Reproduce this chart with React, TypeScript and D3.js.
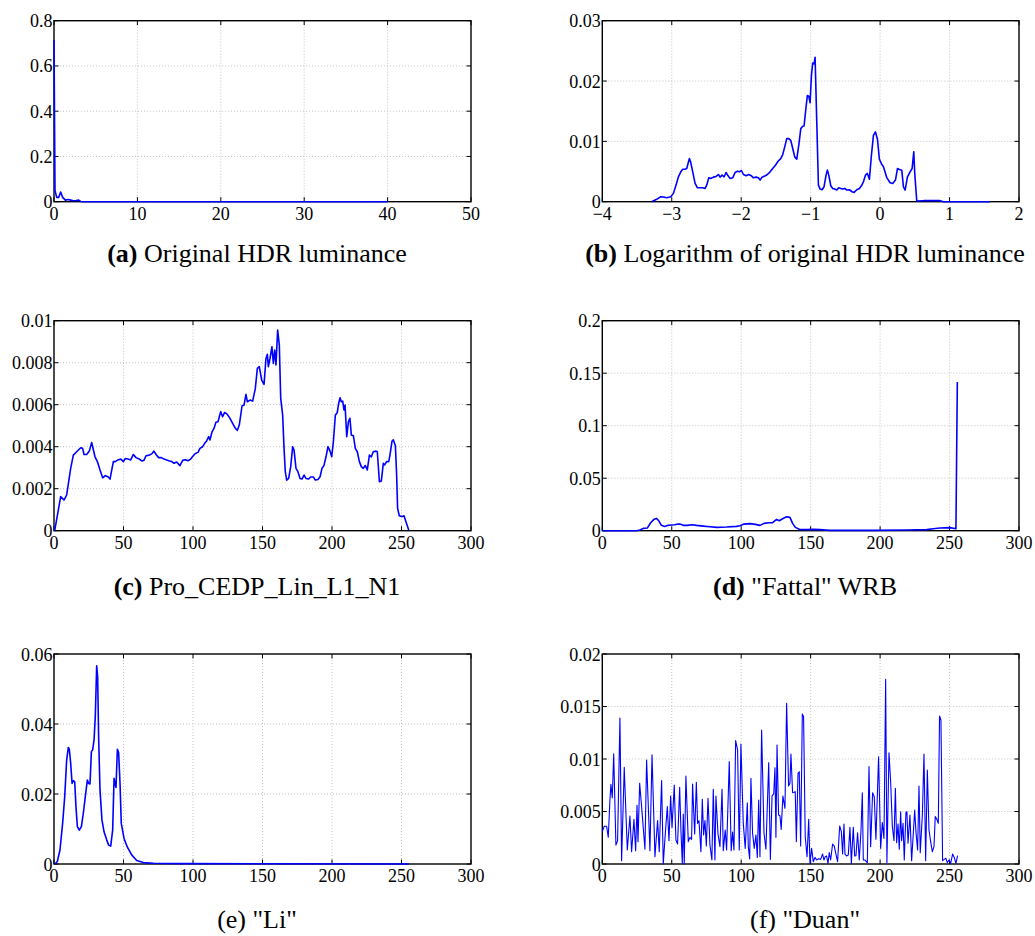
import React from "react";
import * as d3 from "d3";

// ---------- DATA ----------
// (a) Original HDR luminance
const aX = [0, 0.12, 0.32, 0.56, 0.8, 1.04, 1.36, 1.68, 2.0, 2.32, 2.64, 2.96, 3.2, 3.5, 40];
const aY = [0.715, 0.05, 0.019, 0.019, 0.043, 0.019, 0.007, 0.01, 0.007, 0.004, 0.005, 0.007, 0.001, 0, 0];

// (b) Logarithm of original HDR luminance
const bX = [-3.29, -3.216, -3.158, -3.12, -3.072, -3.014, -2.976, -2.938, -2.904, -2.87, -2.842, -2.808, -2.784, -2.765, -2.746, -2.726, -2.698, -2.664, -2.63, -2.592, -2.554, -2.52, -2.496, -2.467, -2.438, -2.4, -2.362, -2.328, -2.304, -2.275, -2.246, -2.218, -2.189, -2.16, -2.122, -2.088, -2.054, -2.026, -1.997, -1.968, -1.93, -1.891, -1.853, -1.824, -1.786, -1.752, -1.728, -1.7, -1.661, -1.623, -1.584, -1.546, -1.507, -1.469, -1.431, -1.402, -1.373, -1.344, -1.315, -1.287, -1.258, -1.229, -1.2, -1.171, -1.142, -1.114, -1.095, -1.066, -1.047, -1.027, -1.008, -0.989, -0.97, -0.951, -0.936, -0.912, -0.888, -0.864, -0.835, -0.807, -0.778, -0.759, -0.739, -0.71, -0.682, -0.653, -0.624, -0.595, -0.567, -0.538, -0.509, -0.48, -0.442, -0.404, -0.375, -0.336, -0.298, -0.269, -0.24, -0.211, -0.183, -0.154, -0.125, -0.096, -0.067, -0.038, -0.01, 0.019, 0.048, 0.096, 0.144, 0.182, 0.221, 0.25, 0.278, 0.312, 0.336, 0.36, 0.394, 0.432, 0.461, 0.485, 0.499, 0.528, 0.624, 0.864, 0.912, 1.584];
const bY = [0, 0.00039, 0.00083, 0.00077, 0.00066, 0.00083, 0.00138, 0.00275, 0.00413, 0.00495, 0.00539, 0.00539, 0.0055, 0.00633, 0.00715, 0.00649, 0.00495, 0.00303, 0.00231, 0.00231, 0.00231, 0.0022, 0.00275, 0.00396, 0.00385, 0.00407, 0.00418, 0.00451, 0.00407, 0.0044, 0.00413, 0.00484, 0.00429, 0.00385, 0.00396, 0.00484, 0.00506, 0.00495, 0.00517, 0.00451, 0.00429, 0.00451, 0.00429, 0.00396, 0.00407, 0.00396, 0.00358, 0.00407, 0.00424, 0.00451, 0.00495, 0.0055, 0.00605, 0.00671, 0.00715, 0.00782, 0.00908, 0.01046, 0.01046, 0.01018, 0.00881, 0.00743, 0.00704, 0.00936, 0.01211, 0.01249, 0.01255, 0.01569, 0.01761, 0.0175, 0.0164, 0.02091, 0.023, 0.02284, 0.02394, 0.0132, 0.00275, 0.00209, 0.00198, 0.00248, 0.0044, 0.00523, 0.0044, 0.00264, 0.0022, 0.00209, 0.00193, 0.00231, 0.0022, 0.00209, 0.0022, 0.00193, 0.00198, 0.00165, 0.00154, 0.00198, 0.0022, 0.00264, 0.0033, 0.0044, 0.00468, 0.00374, 0.0077, 0.011, 0.01156, 0.01035, 0.00704, 0.0063, 0.0058, 0.004, 0.00314, 0.00303, 0.00358, 0.0055, 0.00534, 0.00523, 0.00248, 0.00193, 0.00413, 0.00495, 0.0055, 0.00826, 0.00468, 0.00011, 0.00017, 0.00017, 0, 0];

// (c) Pro_CEDP_Lin_L1_N1
const cX = [0.5, 4.8, 7.2, 9.1, 12, 13.9, 16.3, 19.2, 20.6, 21.6, 23.5, 25.4, 27.1, 29.5, 31.2, 33.1, 35, 36.9, 38.8, 40.3, 42.7, 44.1, 46, 48, 49.9, 51.3, 53.2, 55.2, 57.1, 59, 61.4, 63.3, 64.7, 66.2, 68.6, 70.5, 71.9, 73.4, 75.3, 77.2, 79.1, 81.1, 83, 84.9, 86.3, 88.2, 90.6, 92.6, 94.5, 96.4, 98.3, 100.2, 101.7, 103.6, 105, 106.9, 108.4, 109.8, 111.3, 112.2, 113.7, 115.1, 116.5, 118, 119.9, 121.3, 122.8, 124.7, 126.6, 128.5, 130.5, 131.9, 133.3, 135.3, 136.7, 138.1, 139.1, 141, 142.9, 144.8, 146.3, 147.7, 149.4, 151.1, 152.5, 153.5, 154.2, 155.4, 156.8, 157.8, 158.8, 159.7, 160.9, 162.1, 163.1, 164.5, 165.5, 166.4, 167.4, 168.8, 170.3, 171.7, 172.7, 174.1, 175.5, 177, 178.4, 179.9, 181.3, 183.2, 184.6, 186.6, 188, 189.9, 191.4, 192.8, 194.2, 195.7, 197.1, 198.6, 199.8, 201, 202.4, 203.8, 204.8, 205.8, 206.7, 207.7, 208.6, 209.4, 210.6, 211.8, 212.9, 213.9, 215.4, 216.8, 218.2, 219.7, 221.1, 222.5, 224, 225.4, 226.9, 228.3, 229.7, 231.7, 232.6, 234.1, 235.5, 236.9, 237.9, 239.3, 240.8, 241.7, 243.2, 244.1, 245.6, 246.5, 247.2, 248.4, 250.4, 251.8, 253.2, 255.2];
const cY = [0, 0.00162, 0.00146, 0.0017, 0.00297, 0.0036, 0.00376, 0.00395, 0.00392, 0.00363, 0.00363, 0.00379, 0.0042, 0.00352, 0.00329, 0.00289, 0.00252, 0.00262, 0.00257, 0.00246, 0.00329, 0.00329, 0.00337, 0.00341, 0.00329, 0.00344, 0.00341, 0.00337, 0.00363, 0.00348, 0.00341, 0.00332, 0.00335, 0.00357, 0.0036, 0.00367, 0.00379, 0.00363, 0.00348, 0.00348, 0.00341, 0.00337, 0.00332, 0.00329, 0.00321, 0.00327, 0.0031, 0.00335, 0.00338, 0.00333, 0.00341, 0.00357, 0.00368, 0.00373, 0.00392, 0.004, 0.00416, 0.00427, 0.00448, 0.00432, 0.00471, 0.00487, 0.00516, 0.00519, 0.00567, 0.00543, 0.00563, 0.00554, 0.00535, 0.00511, 0.00487, 0.00478, 0.00503, 0.00595, 0.00598, 0.00649, 0.00614, 0.00622, 0.00617, 0.00675, 0.00773, 0.00781, 0.00717, 0.00697, 0.0082, 0.0084, 0.00781, 0.0082, 0.00876, 0.00797, 0.0086, 0.00789, 0.00956, 0.00884, 0.0063, 0.0055, 0.00392, 0.00281, 0.00241, 0.00249, 0.00305, 0.004, 0.00384, 0.00297, 0.00281, 0.00249, 0.00246, 0.00265, 0.00249, 0.00246, 0.00256, 0.00256, 0.00241, 0.00244, 0.00257, 0.00297, 0.0031, 0.00352, 0.004, 0.00379, 0.00352, 0.00424, 0.0055, 0.00563, 0.00606, 0.00633, 0.00614, 0.00617, 0.00575, 0.00598, 0.00448, 0.00519, 0.00535, 0.00456, 0.00452, 0.00392, 0.00376, 0.00329, 0.00305, 0.00297, 0.0031, 0.00289, 0.0036, 0.00352, 0.00376, 0.00379, 0.00376, 0.00233, 0.00237, 0.00321, 0.00313, 0.00329, 0.00329, 0.0036, 0.00427, 0.00433, 0.00405, 0.00265, 0.00106, 0.00071, 0.00067, 0.00071, 0.00043, 0.00003];

// (d) "Fattal" WRB
const dX = [0, 24.7, 27.1, 29.5, 32.4, 34.8, 37.2, 39.1, 40.6, 42.5, 44.9, 47.3, 49.7, 52.1, 54.5, 55.9, 58.3, 61.2, 64.6, 67.9, 72.7, 77.5, 82.3, 89.5, 96.7, 99.1, 102, 106.3, 110.2, 113.5, 116.4, 119.8, 122.6, 125.5, 127.4, 129.8, 132.7, 135.1, 137, 139, 141.8, 147.1, 151.9, 156.7, 163.9, 195.1, 219.1, 233.5, 238.3, 243.1, 250.3, 254.6, 255.6];
const dY = [0, 0, 0.0006, 0.0022, 0.0025, 0.0076, 0.0108, 0.0117, 0.0095, 0.0051, 0.0041, 0.0051, 0.0054, 0.0057, 0.0063, 0.0063, 0.0051, 0.0051, 0.0057, 0.0051, 0.0044, 0.0038, 0.0032, 0.0035, 0.0041, 0.0048, 0.0063, 0.0067, 0.006, 0.0051, 0.007, 0.0076, 0.0076, 0.0108, 0.0095, 0.0114, 0.0133, 0.0127, 0.007, 0.0032, 0.0013, 0.001, 0.0013, 0.001, 0.0003, 0.0003, 0.0006, 0.001, 0.0019, 0.0025, 0.0029, 0.0019, 0.1416];

// (e) "Li"
const eX = [0.7, 2.4, 4.3, 6.2, 7.7, 9.1, 10.3, 11, 12, 13, 14, 14.9, 15.8, 16.8, 18.2, 19.7, 21.1, 22.5, 24, 24.9, 25.9, 26.9, 27.8, 28.8, 29.7, 30.7, 31.4, 32.1, 33.1, 34.5, 36, 37.9, 39.3, 40.8, 42.2, 43.2, 43.9, 44.6, 45.6, 46.5, 47.5, 48.4, 50.4, 52.8, 55.9, 59.5, 64.3, 71.5, 93, 255.4];
const eY = [0, 0.0007, 0.004, 0.0116, 0.0192, 0.0297, 0.0333, 0.0328, 0.0288, 0.023, 0.0238, 0.0235, 0.0164, 0.0107, 0.0097, 0.0107, 0.0145, 0.0192, 0.024, 0.023, 0.0229, 0.0321, 0.0326, 0.0354, 0.0421, 0.0566, 0.0535, 0.0364, 0.0211, 0.0126, 0.0092, 0.0069, 0.0054, 0.0051, 0.0097, 0.0245, 0.023, 0.0219, 0.0328, 0.0318, 0.023, 0.0116, 0.0073, 0.0048, 0.0026, 0.001, 0.0004, 0.0002, 0.0001, 0];

// (f) "Duan"
const fX = [0, 1.4, 3.1, 4.3, 5.5, 6.2, 7.2, 8.2, 9.8, 11, 12.7, 13.9, 15.8, 18, 19.9, 21.1, 22.8, 24, 25, 25.7, 26.9, 28.3, 30.7, 31.9, 34.3, 35.8, 37.9, 39.8, 41, 42.7, 43.9, 45.1, 46.8, 48, 49.2, 50.2, 51.8, 53, 54.2, 55.7, 56.6, 57.6, 58.3, 59, 60.2, 61.9, 63.1, 64.3, 65, 66.5, 67.7, 68.6, 69.6, 71, 72, 72.9, 73.9, 74.9, 76.1, 77.5, 78.9, 79.9, 81.1, 81.8, 83.3, 84.7, 86.2, 87.1, 88.5, 89.5, 91.4, 92.8, 93.8, 94.8, 96, 97.4, 98.6, 99.8, 101.5, 102.9, 104.4, 105.1, 106.1, 107, 108.2, 109.4, 110.6, 111.6, 112.6, 113.5, 114.7, 116.4, 117.8, 119.8, 121, 122.2, 123.4, 124.3, 125, 125.8, 126.9, 127.9, 128.8, 130, 131.5, 132.7, 134.1, 135.1, 135.8, 137, 138, 138.9, 139.7, 140.9, 141.8, 142.8, 144, 144.9, 146.1, 147.4, 148.6, 149.5, 150.7, 151.9, 153.1, 154.3, 155.7, 157.2, 158.6, 159.6, 160.5, 161.5, 162.5, 163.4, 164.4, 165.8, 167, 168.2, 169.4, 170.9, 172.1, 173, 174, 174.7, 175.9, 177.1, 178.3, 179.3, 180.7, 181.7, 182.6, 183.8, 185, 186.2, 187.2, 187.9, 189.1, 190.8, 192, 193.2, 194.6, 195.8, 197, 198.9, 200.4, 201.6, 202.8, 204, 204.9, 206.4, 207.6, 208.8, 210, 211, 211.9, 212.9, 213.8, 214.8, 215.5, 216.5, 217.4, 218.6, 219.3, 220.1, 221.5, 222.7, 223.9, 224.9, 225.8, 227, 228, 228.9, 230.4, 231.6, 232.8, 234, 235.2, 236.4, 237.6, 238.8, 239.7, 240.9, 241.9, 242.8, 243.8, 245, 246.2, 247.4, 248.4, 249.6, 250.8, 252.2, 253.4, 254.6, 255.8];
const fY = [0.00308, 0.0036, 0.0036, 0.00254, 0.0061, 0.0076, 0.0063, 0.0105, 0.0018, 0.0022, 0.0139, 0.00032, 0.0092, 0.00133, 0.00457, 0.00117, 0.00425, 0.00127, 0.0056, 0.00213, 0.00768, 0.00546, 0.0014, 0.0099, 0.00127, 0.0104, 0.0007, 0.00413, 0.00117, 0.00794, 0, 0.00244, 0.00546, 0.00222, 0.00648, 0.00349, 0.00752, 0.00229, 0.0019, 0.0073, 0.00324, 0.00006, 0.00476, 0, 0.00838, 0.00213, 0.00254, 0.00235, 0.00762, 0.00286, 0.00778, 0.00387, 0.00413, 0.00117, 0.00616, 0.00276, 0.00413, 0.00171, 0.00625, 0.00181, 0.00038, 0.00711, 0.00038, 0.00648, 0.00286, 0.00165, 0.00711, 0.00127, 0.00324, 0.00133, 0.00975, 0.00127, 0.00305, 0.00133, 0.01175, 0.01086, 0.00133, 0.01143, 0.00387, 0.00149, 0.00584, 0.00165, 0.00048, 0.00816, 0.00292, 0.00149, 0.00276, 0.00063, 0.0061, 0.0007, 0.01276, 0.00298, 0.0014, 0.00965, 0.00044, 0.00648, 0.00667, 0.00917, 0.00254, 0.01133, 0.00467, 0.0046, 0.0033, 0.00648, 0.0053, 0.0153, 0.00743, 0.00768, 0.01048, 0.0068, 0.00683, 0.00689, 0.00213, 0.00863, 0.00879, 0.00171, 0.01429, 0.01403, 0.0026, 0.0007, 0.00425, 0.00006, 0.00149, 0.00022, 0.00063, 0.00038, 0.00051, 0.00044, 0.00095, 0.00038, 0.0007, 0.00076, 0.00006, 0.00108, 0.00038, 0.0019, 0.00171, 0.00095, 0.00022, 0.00362, 0.00308, 0.00095, 0.00381, 0.00095, 0.00076, 0.00086, 0.00349, 0.00006, 0.00349, 0.00076, 0.00079, 0.00298, 0.00038, 0.00308, 0.00679, 0.00038, 0.00038, 0.00013, 0.00927, 0.00165, 0.00679, 0.00641, 0.00235, 0.01022, 0.00149, 0.00394, 0.00244, 0.01759, 0.00013, 0.0106, 0.00784, 0.00362, 0.00222, 0.00721, 0.00203, 0.00381, 0.0014, 0.00498, 0.00222, 0.00387, 0.00038, 0.00489, 0.00498, 0.00197, 0.00467, 0.00032, 0.00292, 0.00514, 0.00308, 0.00133, 0.00743, 0.00108, 0.00457, 0.01048, 0.00032, 0.00895, 0.00324, 0.00213, 0.00117, 0.00165, 0.00451, 0.00425, 0.00387, 0.0141, 0.01371, 0.00032, 0.00044, 0.00054, 0.00013, 0.00038, 0.00006, 0.00095, 0.00063, 0.00006, 0.00079];

// ticks
const xTicks50 = [0, 10, 20, 30, 40, 50];
const xTicksLog = [-4, -3, -2, -1, 0, 1, 2];
const xTicksLogLabels = ["\u22124", "\u22123", "\u22122", "\u22121", "0", "1", "2"];
const xTicks300 = [0, 50, 100, 150, 200, 250, 300];
const aYTicks = [0, 0.2, 0.4, 0.6, 0.8];
const aYLabels = ["0", "0.2", "0.4", "0.6", "0.8"];
const bYTicks = [0, 0.01, 0.02, 0.03];
const bYLabels = ["0", "0.01", "0.02", "0.03"];
const cYTicks = [0, 0.002, 0.004, 0.006, 0.008, 0.01];
const cYLabels = ["0", "0.002", "0.004", "0.006", "0.008", "0.01"];
const dYTicks = [0, 0.05, 0.1, 0.15, 0.2];
const dYLabels = ["0", "0.05", "0.1", "0.15", "0.2"];
const eYTicks = [0, 0.02, 0.04, 0.06];
const eYLabels = ["0", "0.02", "0.04", "0.06"];
const fYTicks = [0, 0.005, 0.01, 0.015, 0.02];
const fYLabels = ["0", "0.005", "0.01", "0.015", "0.02"];

const captionTags = ["(a)", "(b)", "(c)", "(d)", "(e)", "(f)"];
const captionTexts = [
  "Original HDR luminance",
  "Logarithm of original HDR luminance",
  "Pro_CEDP_Lin_L1_N1",
  "\"Fattal\" WRB",
  "\"Li\"",
  "\"Duan\"",
];

// ---------- LAYOUT ----------
const W = 1035, H = 936;
const COLS = [{ left: 54, right: 471, cap: 257 }, { left: 602.3, right: 1019, cap: 805 }];
const ROWS = [
  { top: 20.7, bottom: 201.7, cap: 262 },
  { top: 320.7, bottom: 530.7, cap: 595 },
  { top: 654, bottom: 864, cap: 928 },
];
const TICK_FONT = "'Liberation Serif', 'Times New Roman', serif";

type Spec = {
  xs: number[]; ys: number[];
  xDomain: [number, number]; yDomain: [number, number];
  xTicks: number[]; xLabels: string[];
  yTicks: number[]; yLabels: string[];
  col: number; row: number; idx: number; bold: boolean; lw: number;
};

const specs: Spec[] = [
  { xs: aX, ys: aY, xDomain: [0, 50], yDomain: [0, 0.8], xTicks: xTicks50, xLabels: xTicks50.map(String), yTicks: aYTicks, yLabels: aYLabels, col: 0, row: 0, idx: 0, bold: true, lw: 1.6 },
  { xs: bX, ys: bY, xDomain: [-4, 2], yDomain: [0, 0.03], xTicks: xTicksLog, xLabels: xTicksLogLabels, yTicks: bYTicks, yLabels: bYLabels, col: 1, row: 0, idx: 1, bold: true, lw: 1.6 },
  { xs: cX, ys: cY, xDomain: [0, 300], yDomain: [0, 0.01], xTicks: xTicks300, xLabels: xTicks300.map(String), yTicks: cYTicks, yLabels: cYLabels, col: 0, row: 1, idx: 2, bold: true, lw: 1.6 },
  { xs: dX, ys: dY, xDomain: [0, 300], yDomain: [0, 0.2], xTicks: xTicks300, xLabels: xTicks300.map(String), yTicks: dYTicks, yLabels: dYLabels, col: 1, row: 1, idx: 3, bold: true, lw: 1.6 },
  { xs: eX, ys: eY, xDomain: [0, 300], yDomain: [0, 0.06], xTicks: xTicks300, xLabels: xTicks300.map(String), yTicks: eYTicks, yLabels: eYLabels, col: 0, row: 2, idx: 4, bold: false, lw: 1.6 },
  { xs: fX, ys: fY, xDomain: [0, 300], yDomain: [0, 0.02], xTicks: xTicks300, xLabels: xTicks300.map(String), yTicks: fYTicks, yLabels: fYLabels, col: 1, row: 2, idx: 5, bold: false, lw: 1.1 },
];

function Panel({ s }: { s: Spec }) {
  const c = COLS[s.col], r = ROWS[s.row];
  const x = d3.scaleLinear().domain(s.xDomain).range([c.left, c.right]);
  const y = d3.scaleLinear().domain(s.yDomain).range([r.bottom, r.top]);
  const pts: [number, number][] = s.xs.map((v, i) => [v, s.ys[i]]);
  const line = d3.line<[number, number]>().x((d) => x(d[0])).y((d) => y(d[1]));
  const tl = 4.5;
  return (
    <g>
      {s.xTicks.slice(1, -1).map((t) => (
        <line key={"gx" + t} x1={x(t)} x2={x(t)} y1={r.top} y2={r.bottom} stroke="#bdbdbd" strokeWidth={0.9} strokeDasharray="1,2" />
      ))}
      {s.yTicks.slice(1, -1).map((t) => (
        <line key={"gy" + t} x1={c.left} x2={c.right} y1={y(t)} y2={y(t)} stroke="#bdbdbd" strokeWidth={0.9} strokeDasharray="1,2" />
      ))}
      <rect x={c.left} y={r.top} width={c.right - c.left} height={r.bottom - r.top} fill="none" stroke="#000" strokeWidth={1.4} />
      {s.xTicks.map((t) => (
        <g key={"tx" + t}>
          <line x1={x(t)} x2={x(t)} y1={r.bottom} y2={r.bottom - tl} stroke="#000" strokeWidth={1} />
          <line x1={x(t)} x2={x(t)} y1={r.top} y2={r.top + tl} stroke="#000" strokeWidth={1} />
        </g>
      ))}
      {s.yTicks.map((t) => (
        <g key={"ty" + t}>
          <line x1={c.left} x2={c.left + tl} y1={y(t)} y2={y(t)} stroke="#000" strokeWidth={1} />
          <line x1={c.right} x2={c.right - tl} y1={y(t)} y2={y(t)} stroke="#000" strokeWidth={1} />
        </g>
      ))}
      <path d={line(pts) || ""} fill="none" stroke="#0000ff" strokeWidth={s.lw} strokeLinejoin="round" />
      {s.xTicks.map((t, i) => (
        <text key={"lx" + t} x={x(t)} y={r.bottom + 18.4} textAnchor="middle" fontFamily={TICK_FONT} fontSize={18} fill="#000">
          {s.xLabels[i]}
        </text>
      ))}
      {s.yTicks.map((t, i) => (
        <text key={"ly" + t} x={c.left - 1.5} y={y(t) + 6.5} textAnchor="end" fontFamily={TICK_FONT} fontSize={18} fill="#000">
          {s.yLabels[i]}
        </text>
      ))}
      <text x={c.cap} y={r.cap} textAnchor="middle" fontFamily={TICK_FONT} fontSize={26} fill="#000">
        <tspan fontWeight={s.bold ? "bold" : "normal"}>{captionTags[s.idx]}</tspan>
        <tspan> {captionTexts[s.idx]}</tspan>
      </text>
    </g>
  );
}

export default function App() {
  return (
    <svg width={W} height={H} viewBox={`0 0 ${W} ${H}`} style={{ position: "absolute", left: 0, top: 0, background: "#fff" }}>
      <rect x={0} y={0} width={W} height={H} fill="#fff" />
      {specs.map((s) => (
        <Panel key={s.idx} s={s} />
      ))}
    </svg>
  );
}
